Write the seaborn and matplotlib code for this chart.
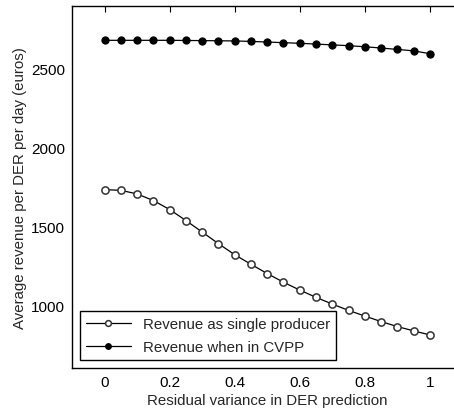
import numpy as np
import pandas as pd
import matplotlib
matplotlib.use("Agg")
import matplotlib.pyplot as plt
import seaborn as sns

# residual variance steps
variance = [0.0, 0.05, 0.1, 0.15, 0.2, 0.25, 0.3, 0.35, 0.4, 0.45, 0.5,
            0.55, 0.6, 0.65, 0.7, 0.75, 0.8, 0.85, 0.9, 0.95, 1.0]
single = [1733, 1729, 1706, 1664, 1607, 1537, 1464, 1390, 1320, 1259, 1200,
          1145, 1095, 1049, 1006, 966, 930, 895, 863, 836, 810]
cvpp = [2682, 2682, 2682, 2682, 2682, 2681, 2680, 2679, 2678, 2675, 2671,
        2667, 2663, 2658, 2653, 2648, 2641, 2633, 2624, 2615, 2597]
labels = ["Revenue as single producer", "Revenue when in CVPP"]
xticks = [0, 0.2, 0.4, 0.6, 0.8, 1]
xticklabels = ["0", "0.2", "0.4", "0.6", "0.8", "1"]
yticks = [1000, 1500, 2000, 2500]

sns.set_style("white")
plt.rcParams["font.family"] = ["Liberation Sans", "DejaVu Sans"]
plt.rcParams["xtick.direction"] = "in"
plt.rcParams["ytick.direction"] = "in"

fig = plt.figure(figsize=(4.54, 4.14), dpi=100)
ax = fig.add_axes([0.1586, 0.1087, 0.860, 0.8744])

df = pd.DataFrame({"x": variance, "single": single, "cvpp": cvpp})

sns.lineplot(data=df, x="x", y="single", ax=ax, color="black", lw=0.9,
             marker="o", markersize=5.2, markerfacecolor="white",
             markeredgecolor="#333333", markeredgewidth=1.1, label=labels[0])
sns.lineplot(data=df, x="x", y="cvpp", ax=ax, color="black", lw=0.9,
             marker="o", markersize=5.2, markerfacecolor="black",
             markeredgecolor="black", label=labels[1])

ax.set_xlim(-0.1, 1.1)
ax.set_ylim(600, 2900)
ax.set_xticks(xticks)
ax.set_xticklabels(xticklabels)
ax.set_yticks(yticks)
ax.tick_params(labelsize=11, length=4, width=0.8, colors="black",
               top=True, right=True, pad=5)
for s in ax.spines.values():
    s.set_color("black")
    s.set_linewidth(1.0)

ax.set_xlabel("Residual variance in DER prediction", fontsize=10.8, labelpad=3)
ax.set_ylabel("Average revenue per DER per day (euros)", fontsize=10.8, labelpad=3)

leg = ax.legend(loc="lower left", fontsize=10.8, frameon=True, fancybox=False,
                edgecolor="black", handlelength=3.0, borderaxespad=0.5,
                framealpha=1, markerscale=0.8, labelspacing=0.6)
leg.get_frame().set_linewidth(1.0)

fig.savefig("out.png", dpi=100)
